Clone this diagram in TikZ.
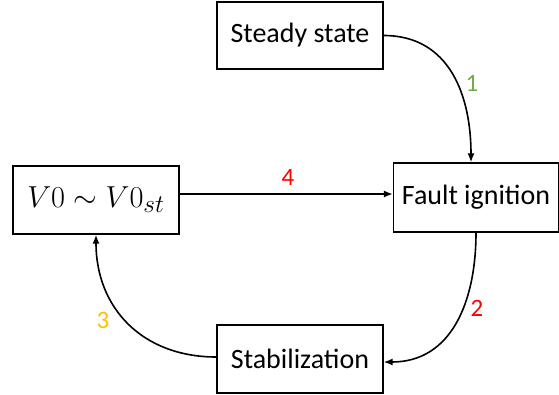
\documentclass[tikz,border=0pt]{standalone}
\usepackage{fontspec}
\usepackage{graphicx}
\setmainfont{Carlito}
\usetikzlibrary{arrows.meta}
\begin{document}
\begin{tikzpicture}[x=1pt,y=1pt,
  statebox/.style={draw=black, line width=1.2pt, minimum width=166pt, minimum height=68pt,
    inner sep=0pt, font=\fontsize{28}{32}\selectfont},
  flow/.style={line width=1.6pt, -{Latex[length=9pt,width=7pt]}},
  steplabel/.style={font=\fontsize{25}{29}\selectfont}]
\useasboundingbox (0,0) rectangle (559,-394);
\definecolor{lblgreen}{HTML}{70AD47}
\definecolor{lblred}{HTML}{FF0000}
\definecolor{lblgold}{HTML}{FFC000}

\node[statebox, minimum height=67pt] (ss) at (300,-35.5) {Steady state};
\node[statebox, minimum width=165pt, minimum height=69pt] (fi) at (476,-197.5) {Fault ignition};
\node[statebox] (v0) at (96,-200) {\fontsize{24.88}{30}\selectfont\scalebox{1.22}{$V0\sim V0_{st}$}};
\node[statebox] (st) at (300,-359) {Stabilization};

\draw[flow] (ss.east) to[out=0,in=90,looseness=1.1] ([xshift=-5pt]fi.north);
\draw[flow] (fi.south) to[out=-90,in=0,looseness=1.1] ([yshift=-3pt]st.east);
\draw[flow] ([yshift=2pt]st.west) to[out=180,in=-90,looseness=1.1] (v0.south);
\draw[flow] ([yshift=6pt]v0.east) -- ([yshift=6pt]v0.east -| fi.west);

\node[steplabel, text=lblgreen] (l1) at (472,-83) {1};
\node[steplabel, text=lblred] (l2) at (477,-308) {2};
\node[steplabel, text=lblgold] (l3) at (103,-320) {3};
\node[steplabel, text=lblred] (l4) at (288,-177) {4};
\end{tikzpicture}
\end{document}
